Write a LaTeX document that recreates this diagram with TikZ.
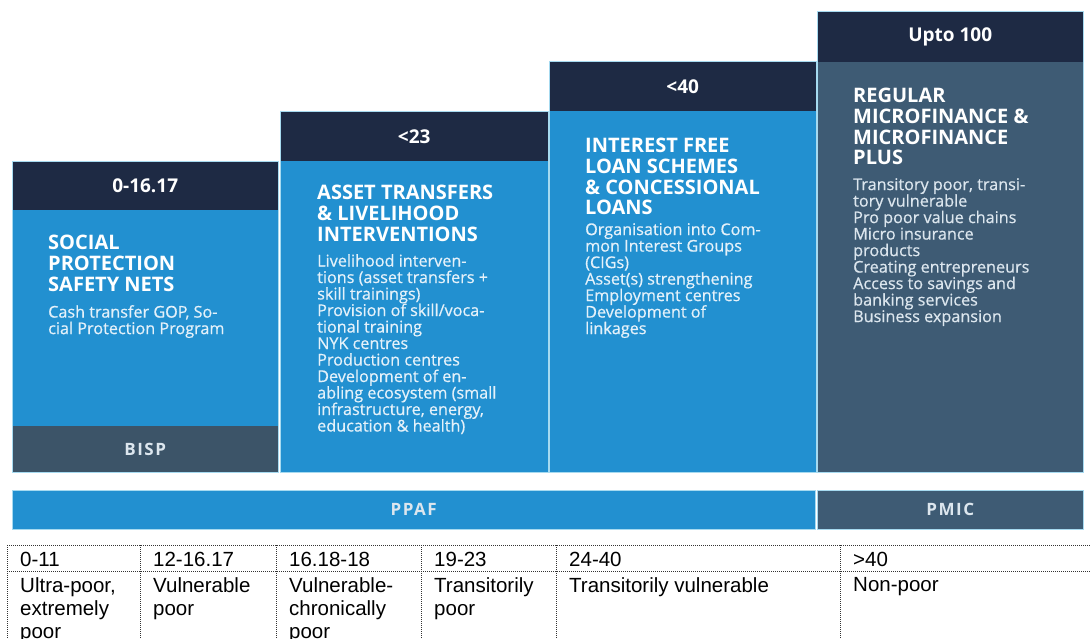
\documentclass[tikz,border=0pt]{standalone}
\usepackage{fontspec}
\setmainfont{Open Sans}
\newfontfamily\bodyf{Open Sans}[FakeBold=0.6]
\newfontfamily\barf{Open Sans}[LetterSpace=9]
\newfontfamily\tabf{Liberation Sans}
\definecolor{navy}{HTML}{1E2A44}
\definecolor{bblue}{HTML}{2290D0}
\definecolor{slate}{HTML}{3E5B74}
\definecolor{bispc}{HTML}{3C5468}
\definecolor{sepc}{HTML}{A6DAF0}
\definecolor{bodytxt}{HTML}{E4F1FA}
\definecolor{bartxt}{HTML}{DCE6EE}
\tikzset{
  box/.style={rectangle, inner sep=0pt, anchor=north west, draw=none},
  hdr/.style={box, fill=navy, text=white, font=\bfseries\fontsize{19}{19}\selectfont},
  bluebox/.style={box, fill=bblue},
  slatebox/.style={box, fill=slate},
  barbox/.style={box, text=bartxt, font=\barf\bfseries\fontsize{17}{17}\selectfont},
  sepline/.style={draw=sepc, line width=1pt},
  ttl/.style={anchor=north west, inner sep=0pt, align=left, text=white, font=\bfseries\fontsize{20}{20.7}\selectfont},
  dsc/.style={anchor=north west, inner sep=0pt, align=left, text=bodytxt, font=\bodyf\fontsize{16.2}{16.5}\selectfont},
  dotline/.style={draw=black!80, line width=0.9pt, dash pattern=on 1pt off 1pt},
  tcell/.style={anchor=base west, inner sep=0pt, text=black, font=\tabf\fontsize{20.5}{23}\selectfont},
  tcellm/.style={anchor=north west, inner sep=0pt, align=left, text=black, font=\tabf\fontsize{20.5}{23}\selectfont}
}
\begin{document}
\begin{tikzpicture}[x=1pt,y=-1pt]
\useasboundingbox (0,0) rectangle (1090,639);
\fill[white] (0,0) rectangle (1090,639);

% column 1
\node[hdr, minimum width=266pt, minimum height=48pt] (h1) at (12,162) {0-16.17};
\node[bluebox, minimum width=266pt, minimum height=216pt] (b1) at (12,210) {};
\node[barbox, fill=bispc, minimum width=266pt, minimum height=46pt] (bisp) at (12,426) {BISP};
% column 2
\node[hdr, minimum width=268pt, minimum height=49pt] (h2) at (280,112) {<23};
\node[bluebox, minimum width=268pt, minimum height=311pt] (b2) at (280,161) {};
% column 3
\node[hdr, minimum width=267pt, minimum height=49pt] (h3) at (549,62) {<40};
\node[bluebox, minimum width=267pt, minimum height=361pt] (b3) at (549,111) {};
% column 4
\node[hdr, minimum width=266pt, minimum height=50pt] (h4) at (817,12) {Upto 100};
\node[slatebox, minimum width=266pt, minimum height=410pt] (b4) at (817,62) {};

\draw[sepline] (h1.north west) rectangle (bisp.south east);
\draw[sepline] (h2.north west) rectangle (b2.south east);
\draw[sepline] (h3.north west) rectangle (b3.south east);
\draw[sepline] (h4.north west) rectangle (b4.south east);

% texts
\node[ttl] (t1) at (48,235) {SOCIAL\\PROTECTION\\SAFETY NETS};
\node[dsc] (d1) at (48,305) {Cash transfer GOP, So-\\cial Protection Program};
\node[ttl] (t2) at (317,185) {ASSET TRANSFERS\\\& LIVELIHOOD\\INTERVENTIONS};
\node[dsc] (d2) at (317,254) {Livelihood interven-\\tions (asset transfers +\\skill trainings)\\Provision of skill/voca-\\tional training\\NYK centres\\Production centres\\Development of en-\\abling ecosystem (small\\infrastructure, energy,\\education \& health)};
\node[ttl] (t3) at (585,138) {INTEREST FREE\\LOAN SCHEMES\\\& CONCESSIONAL\\LOANS};
\node[dsc] (d3) at (585,223) {Organisation into Com-\\mon Interest Groups\\(CIGs)\\Asset(s) strengthening\\Employment centres\\Development of\\linkages};
\node[ttl] (t4) at (853,88) {REGULAR\\MICROFINANCE \&\\MICROFINANCE\\PLUS};
\node[dsc, text=bartxt] (d4) at (853,178) {Transitory poor, transi-\\tory vulnerable\\Pro poor value chains\\Micro insurance\\products\\Creating entrepreneurs\\Access to savings and\\banking services\\Business expansion};

% bars
\node[barbox, fill=bblue, minimum width=803pt, minimum height=39pt] (ppaf) at (12,490) {PPAF};
\node[barbox, fill=slate, minimum width=266pt, minimum height=39pt] (pmic) at (817,490) {PMIC};
\draw[sepline] (ppaf.north west) rectangle (ppaf.south east);
\draw[sepline] (pmic.north west) rectangle (pmic.south east);

% table
\draw[dotline] (7,545) -- (1090,545);
\draw[dotline] (7,571) -- (1090,571);
\foreach \x in {7,140,276,421,556,840} {\draw[dotline] (\x,545) -- (\x,640);}
\node[tcell] (r1) at (20,566) {0-11};
\node[tcell] (r2) at (153,566) {12-16.17};
\node[tcell] (r3) at (289,566) {16.18-18};
\node[tcell] (r4) at (434,566) {19-23};
\node[tcell] (r5) at (569,566) {24-40};
\node[tcell] (r6) at (853,566) {>40};
\node[tcellm] (c1) at (20,577) {Ultra-poor,\\extremely\\poor};
\node[tcellm] (c2) at (153,577) {Vulnerable\\poor};
\node[tcellm] (c3) at (289,577) {Vulnerable-\\chronically\\poor};
\node[tcellm] (c4) at (434,577) {Transitorily\\poor};
\node[tcellm] (c5) at (569,577) {Transitorily vulnerable};
\node[tcellm] (c6) at (853,577) {Non-poor};
\end{tikzpicture}
\end{document}
